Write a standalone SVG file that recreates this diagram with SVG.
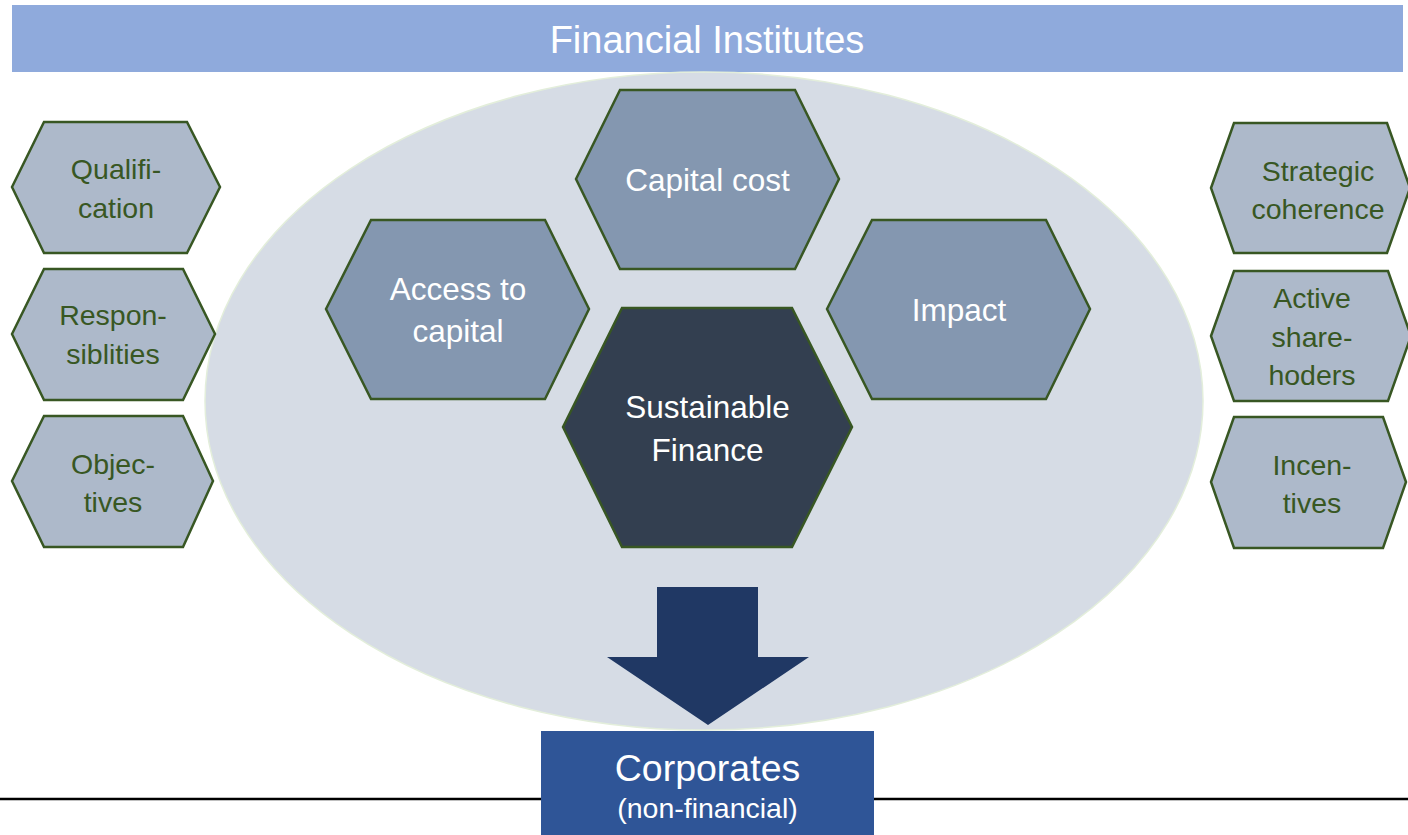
<svg xmlns="http://www.w3.org/2000/svg" width="1408" height="835" viewBox="0 0 1408 835">
  <style>
    text { font-family: "Liberation Sans", Arial, sans-serif; text-anchor: middle; }
    .hex-side { fill: #adb9ca; stroke: #385723; stroke-width: 2.5; stroke-linejoin: miter; }
    .hex-mid { fill: #8497b0; stroke: #385723; stroke-width: 2.5; }
    .hex-core { fill: #333f50; stroke: #385723; stroke-width: 2.5; }
    .lbl-side { fill: #385723; font-size: 28.5px; }
    .lbl-mid { fill: #ffffff; font-size: 31.5px; }
    .lbl-title { fill: #ffffff; font-size: 38px; }
    .lbl-corp { fill: #ffffff; font-size: 37.5px; }
    .lbl-corp-sub { fill: #ffffff; font-size: 28.5px; }
  </style>

  <rect width="1408" height="835" fill="#ffffff"/>

  <!-- Header band -->
  <g id="financial-institutes">
    <rect x="12" y="5" width="1391" height="67" fill="#8faadc"/>
    <text class="lbl-title" x="707" y="53">Financial Institutes</text>
  </g>

  <!-- Field of influence -->
  <g id="field">
    <ellipse cx="704" cy="401" rx="499" ry="329" fill="#d6dce5" stroke="#e3eedb" stroke-width="1.5"/>
  </g>

  <!-- Left column -->
  <g id="qualification">
    <polygon class="hex-side" points="12,187 44,122 187,122 220,187 187,253 44,253"/>
    <text class="lbl-side" x="116" y="179">Qualifi-</text>
    <text class="lbl-side" x="116" y="218">cation</text>
  </g>
  <g id="responsibilities">
    <polygon class="hex-side" points="12,334 44,269 183,269 215,334 183,400 44,400"/>
    <text class="lbl-side" x="113" y="325">Respon-</text>
    <text class="lbl-side" x="113" y="364">siblities</text>
  </g>
  <g id="objectives">
    <polygon class="hex-side" points="12,481 44,416 183,416 213,481 183,547 44,547"/>
    <text class="lbl-side" x="113" y="474">Objec-</text>
    <text class="lbl-side" x="113" y="512">tives</text>
  </g>

  <!-- Right column -->
  <g id="strategic-coherence">
    <polygon class="hex-side" points="1211,188 1234,123 1387,123 1410,188 1387,253 1234,253"/>
    <text class="lbl-side" x="1318" y="181">Strategic</text>
    <text class="lbl-side" x="1318" y="219">coherence</text>
  </g>
  <g id="active-shareholders">
    <polygon class="hex-side" points="1211,336 1234,271 1388,271 1411,336 1388,401 1234,401"/>
    <text class="lbl-side" x="1312" y="308">Active</text>
    <text class="lbl-side" x="1312" y="347">share-</text>
    <text class="lbl-side" x="1312" y="385">hoders</text>
  </g>
  <g id="incentives">
    <polygon class="hex-side" points="1211,482 1234,417 1383,417 1406,482 1383,548 1234,548"/>
    <text class="lbl-side" x="1312" y="475">Incen-</text>
    <text class="lbl-side" x="1312" y="513">tives</text>
  </g>

  <!-- Central cluster -->
  <g id="capital-cost">
    <polygon class="hex-mid" points="576,179 620,90 795,90 839,179 795,269 620,269"/>
    <text class="lbl-mid" x="707.5" y="191">Capital cost</text>
  </g>
  <g id="access-to-capital">
    <polygon class="hex-mid" points="326,309 371,220 545,220 589,309 545,399 371,399"/>
    <text class="lbl-mid" x="458" y="300">Access to</text>
    <text class="lbl-mid" x="458" y="342">capital</text>
  </g>
  <g id="impact">
    <polygon class="hex-mid" points="827,309 872,220 1046,220 1090,309 1046,399 872,399"/>
    <text class="lbl-mid" x="959" y="321">Impact</text>
  </g>
  <g id="sustainable-finance">
    <polygon class="hex-core" points="563,427 622,308 792,308 852,427 792,547 622,547"/>
    <text class="lbl-mid" x="707.5" y="418">Sustainable</text>
    <text class="lbl-mid" x="707.5" y="461">Finance</text>
  </g>

  <!-- Flow toward the real economy -->
  <g id="connectors">
    <polygon points="657,587 758,587 758,657 809,657 708,725 607,657 657,657" fill="#203864"/>
  </g>

  <!-- Baseline rule -->
  <g id="baseline">
    <line x1="0" y1="799" x2="1408" y2="799" stroke="#000000" stroke-width="2.5"/>
  </g>

  <g id="corporates">
    <rect x="541" y="731" width="333" height="104" fill="#2f5597"/>
    <text class="lbl-corp" x="707.5" y="781">Corporates</text>
    <text class="lbl-corp-sub" x="707.5" y="818">(non-financial)</text>
  </g>
</svg>
